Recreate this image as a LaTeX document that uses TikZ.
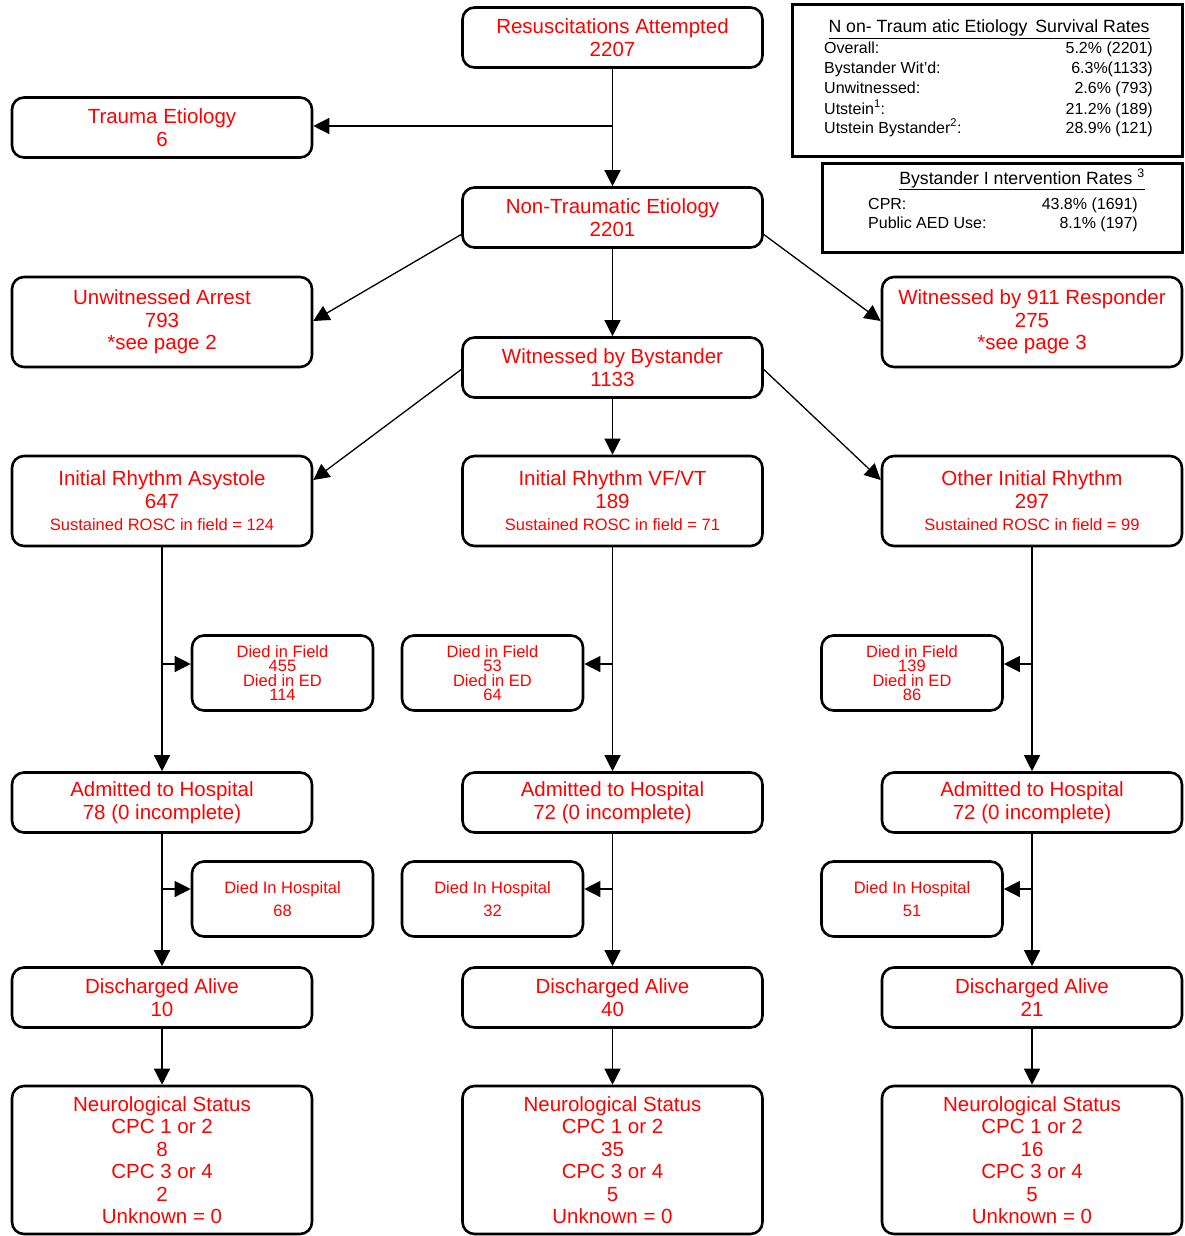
\documentclass[tikz,border=0pt]{standalone}
\usepackage{fontspec}
\setmainfont{Liberation Sans}
\usetikzlibrary{arrows.meta}
\newcommand\fbig{\fontsize{20.5}{22.5}\selectfont}
\newcommand\fsmall{\fontsize{16.5}{14.5}\selectfont}
\newcommand\fhosp{\fontsize{16.5}{23}\selectfont}
\newcommand\ftab{\fontsize{16}{20}\selectfont}
\newcommand\ftabhead{\fontsize{17.7}{20}\selectfont}
\begin{document}
\begin{tikzpicture}[x=1pt,y=-1pt,
  box/.style={draw, line width=2.6pt, rounded corners=12pt, fill=white, text=red,
    align=center, inner sep=0pt, minimum width=300pt, minimum height=60pt, font=\fbig},
  tallbox/.style={box, minimum height=90pt},
  sidebox/.style={box, minimum width=181pt, minimum height=75pt},
  neurobox/.style={box, minimum height=148pt},
  arr/.style={line width=1.3pt, -{Triangle[length=16pt,width=16pt]}},
  tabframe/.style={draw, line width=3pt},
  tabtext/.style={inner sep=0pt, font=\ftab, text=black},
  tabhead/.style={tabtext, font=\ftabhead},
]
\useasboundingbox (0,0) rectangle (1184,1236);

% ---- top of the flow ----
\node[box] (res) at (612.5,37.5) {Resuscitations Attempted\\2207};
\node[box] (trauma) at (162,127.5) {Trauma Etiology\\6};
\node[box] (nontr) at (612.5,217.5) {Non-Traumatic Etiology\\2201};
\node[tallbox] (unw) at (162,322) {Unwitnessed Arrest\\793\\*see page 2};
\node[tallbox] (resp) at (1032,322) {Witnessed by 911 Responder\\275\\*see page 3};
\node[box] (bys) at (612.5,367.5) {Witnessed by Bystander\\1133};

% ---- initial rhythm ----
\node[tallbox] (asy) at (162,501) {Initial Rhythm Asystole\\647\\{\fontsize{16.5}{22}\selectfont Sustained ROSC in field = 124}};
\node[tallbox] (vf) at (612.5,501) {Initial Rhythm VF/VT\\189\\{\fontsize{16.5}{22}\selectfont Sustained ROSC in field = 71}};
\node[tallbox] (oth) at (1032,501) {Other Initial Rhythm\\297\\{\fontsize{16.5}{22}\selectfont Sustained ROSC in field = 99}};

% ---- deaths in field / ED ----
\node[sidebox, font=\fsmall] (dfa) at (282.5,673) {Died in Field\\455\\Died in ED\\114};
\node[sidebox, font=\fsmall] (dfv) at (492.5,673) {Died in Field\\53\\Died in ED\\64};
\node[sidebox, font=\fsmall] (dfo) at (912,673) {Died in Field\\139\\Died in ED\\86};

% ---- admitted ----
\node[box] (ada) at (162,802.5) {Admitted to Hospital\\78 (0 incomplete)};
\node[box] (adv) at (612.5,802.5) {Admitted to Hospital\\72 (0 incomplete)};
\node[box] (ado) at (1032,802.5) {Admitted to Hospital\\72 (0 incomplete)};

% ---- deaths in hospital ----
\node[sidebox, font=\fhosp] (dha) at (282.5,899) {Died In Hospital\\68};
\node[sidebox, font=\fhosp] (dhv) at (492.5,899) {Died In Hospital\\32};
\node[sidebox, font=\fhosp] (dho) at (912,899) {Died In Hospital\\51};

% ---- discharged ----
\node[box] (dca) at (162,997.5) {Discharged Alive\\10};
\node[box] (dcv) at (612.5,997.5) {Discharged Alive\\40};
\node[box] (dco) at (1032,997.5) {Discharged Alive\\21};

% ---- neurological status ----
\node[neurobox] (nsa) at (162,1160) {Neurological Status\\CPC 1 or 2\\8\\CPC 3 or 4\\2\\Unknown = 0};
\node[neurobox] (nsv) at (612.5,1160) {Neurological Status\\CPC 1 or 2\\35\\CPC 3 or 4\\5\\Unknown = 0};
\node[neurobox] (nso) at (1032,1160) {Neurological Status\\CPC 1 or 2\\16\\CPC 3 or 4\\5\\Unknown = 0};

% ---- connectors ----
\draw[arr] (res) -- (nontr);
\coordinate (jt) at (612.5,126);
\draw[arr] (jt) -- (trauma.east |- jt);
\draw[arr] ([yshift=-17pt]nontr.west) -- ([yshift=1pt]unw.east);
\draw[arr] ([yshift=-17pt]nontr.east) -- ([yshift=1pt]resp.west);
\draw[arr] (nontr) -- (bys);
\draw[arr] ([yshift=-2pt]bys.west) -- ([yshift=21pt]asy.east);
\draw[arr] ([yshift=-2pt]bys.east) -- ([yshift=21pt]oth.west);
\draw[arr] (bys) -- (vf);

\draw[arr] (asy) -- (ada);
\draw[arr] (vf) -- (adv);
\draw[arr] (oth) -- (ado);
\coordinate (ja) at (162,664);
\coordinate (jv) at (612.5,664);
\coordinate (jo) at (1032,664);
\draw[arr] (ja) -- (dfa.west |- ja);
\draw[arr] (jv) -- (dfv.east |- jv);
\draw[arr] (jo) -- (dfo.east |- jo);

\draw[arr] (ada) -- (dca);
\draw[arr] (adv) -- (dcv);
\draw[arr] (ado) -- (dco);
\coordinate (ka) at (162,889);
\coordinate (kv) at (612.5,889);
\coordinate (ko) at (1032,889);
\draw[arr] (ka) -- (dha.west |- ka);
\draw[arr] (kv) -- (dhv.east |- kv);
\draw[arr] (ko) -- (dho.east |- ko);

\draw[arr] (dca) -- (nsa);
\draw[arr] (dcv) -- (nsv);
\draw[arr] (dco) -- (nso);

% ---- survival rate table ----
\draw[tabframe] (792,5) rectangle (1182,156);
\node[tabhead, anchor=base] (st) at (989,33) {\underline{N on- Traum atic Etiology\, Survival Rates}};
\node[tabtext, anchor=base west] (sl1) at (824,54) {Overall:};
\node[tabtext, anchor=base west] (sl2) at (824,74) {Bystander Wit’d:};
\node[tabtext, anchor=base west] (sl3) at (824,94) {Unwitnessed:};
\node[tabtext, anchor=base west] (sl4) at (824,114) {Utstein\textsuperscript{1}:};
\node[tabtext, anchor=base west] (sl5) at (824,133) {Utstein Bystander\textsuperscript{2}:};
\node[tabtext, anchor=base east] (sr1) at (1153,54) {5.2\% (2201)};
\node[tabtext, anchor=base east] (sr2) at (1153,74) {6.3\%(1133)};
\node[tabtext, anchor=base east] (sr3) at (1153,94) {2.6\% (793)};
\node[tabtext, anchor=base east] (sr4) at (1153,114) {21.2\% (189)};
\node[tabtext, anchor=base east] (sr5) at (1153,133) {28.9\% (121)};

% ---- bystander intervention table ----
\draw[tabframe] (822,163) rectangle (1182,252);
\node[tabhead, anchor=base] (bt) at (1022,184) {\underline{Bystander I ntervention Rates \textsuperscript{3}}};
\node[tabtext, anchor=base west] (bl1) at (868,209) {CPR:};
\node[tabtext, anchor=base west] (bl2) at (868,228) {Public AED Use:};
\node[tabtext, anchor=base east] (br1) at (1138,209) {43.8\% (1691)};
\node[tabtext, anchor=base east] (br2) at (1138,228) {8.1\% (197)};
\end{tikzpicture}
\end{document}
